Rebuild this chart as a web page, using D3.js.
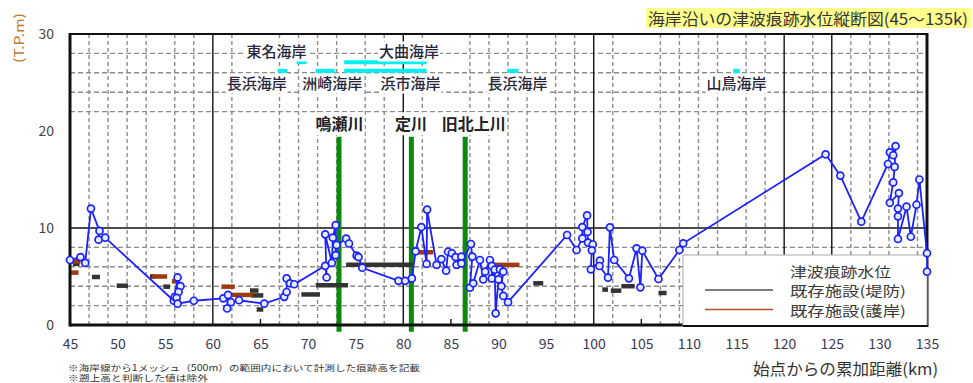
<!DOCTYPE html>
<html><head><meta charset="utf-8">
<script src="https://cdn.jsdelivr.net/npm/d3@7/dist/d3.min.js"></script>
<style>
html,body{margin:0;padding:0;background:#fff;}
svg{display:block;}
text{font-family:"Noto Sans CJK JP","Liberation Sans",sans-serif;}
</style></head>
<body>
<svg id="chart" width="973" height="383"></svg>
<script>
// ---------- data ----------
const xTicks = [45,50,55,60,65,70,75,80,85,90,95,100,105,110,115,120,125,130,135];
const yTicks = [0,10,20,30];
const gridKm = [47,49,51,53,56,58,62,67,69,71,73,76,78,82,87,89,91,93,96,98,102,107,109,111,113,116,118,123,127,129,131,134];
const solidKm = [60,80,100,120,125];
const innerTickKm = [65,85,105];
const dashedLevels = [2,4,6,8,22,24,26,28];
const solidLevels = [10];

// tsunami trace water level (km, T.P.m)
const tracePoints = [
 [45.0,6.7],[46.1,7.0],[46.6,6.4],[47.2,12.0],[48.1,9.7],[48.0,8.8],[48.7,9.0],
 [55.9,2.5],[56.0,2.9],[56.3,4.9],[56.6,4.0],[56.4,3.4],[56.2,2.8],[56.3,2.2],[58.0,2.5],
 [61.1,2.75],[61.6,3.1],[61.5,1.7],[61.9,2.35],[62.75,2.55],[65.4,2.2],
 [67.5,2.9],[67.75,3.4],[67.75,4.8],[68.1,4.3],[68.55,4.2],
 [71.8,6.1],[71.95,4.9],[71.8,9.35],[72.5,6.4],[72.6,9.0],[72.9,10.3],[72.9,7.2],[73.0,8.25],[74.0,8.9],[74.3,8.4],[75.1,7.15],[75.3,7.0],[75.7,5.9],
 [79.5,4.55],[80.2,4.55],[80.9,4.8],
 [81.3,7.6],[81.9,10.1],[82.45,6.3],[82.5,11.9],[83.5,6.2],[84.0,6.8],[84.5,5.6],[84.7,7.55],[85.1,7.4],[85.5,7.0],[85.6,6.2],[86.1,7.05],[86.1,6.35],[87.1,8.35],[87.25,7.05],
 [87.0,3.85],[87.35,4.3],[88.05,6.7],[88.4,4.7],[88.6,5.5],[89.1,6.7],[89.3,6.1],[89.3,4.8],[89.6,5.7],[89.7,1.2],[90.0,4.7],[90.15,5.74],[90.5,5.5],[90.3,4.0],[90.5,3.0],[91.0,2.35],
 [97.2,9.28],[98.2,7.73],[98.8,8.93],[98.8,10.1],[99.3,11.3],[99.35,9.6],[99.4,8.5],[99.9,8.3],[99.8,7.7],[99.7,5.74],[100.65,6.63],[100.6,6.08],[101.5,4.88],[101.7,10.07],[102.15,6.7],[103.7,4.81],[104.5,7.9],[104.9,3.88],[105.1,7.66],[106.8,4.74],[109.0,7.73],[109.4,8.42],
 [124.35,17.6],[125.9,15.4],[128.1,10.65],[130.9,16.6],[131.1,17.8],[131.45,17.5],[131.7,18.45],[131.6,16.3],[131.45,14.7],[131.1,12.6],[132.05,13.6],[131.95,12.0],[131.95,11.2],[131.95,8.87],[132.85,12.2],[133.3,9.1],[133.9,12.4],[134.2,15.0],[135.0,7.4],[135.0,5.5]
];

// existing facilities: [start km, end km, crest T.P.m]
const dikeSegments = [
 [45.3,46.0,6.3],[47.3,48.15,4.95],[49.9,51.1,4.05],[53.4,53.9,5.0],[54.8,55.5,3.95],[63.9,64.8,3.55],[64.0,65.3,3.05],[64.6,65.3,1.6],
 [69.3,71.25,3.15],[70.8,74.2,4.1],[74.0,81.0,6.2],[93.65,94.7,4.3],[100.9,101.5,3.65],[101.8,102.9,3.54],[102.9,104.3,4.0],[106.8,107.65,3.3]
];
const seawallSegments = [
 [45.0,45.9,5.4],[45.2,46.1,6.55],[53.6,55.2,5.0],[55.7,56.4,4.5],[60.9,62.3,3.95],[62.0,64.2,3.1],[81.3,83.15,7.5],[89.3,92.2,6.2]
];

// coast extents (cyan) [start km, end km, level]
const coastBars = [
 [68.8,69.85,27.1],[73.8,82.45,27.1],
 [66.8,67.8,26.2],[70.8,72.8,26.2],[73.8,82.45,26.2],[91.0,92.1,26.2],[114.65,115.35,26.2]
];
const coastNames = ["東名海岸","大曲海岸","長浜海岸","洲崎海岸","浜市海岸","長浜海岸","山鳥海岸"];
const coastKm = [66.7,80.6,64.6,72.55,80.75,92.0,115.0];
const coastLevel = [28.25,28.25,24.95,24.95,24.95,24.95,24.95];

const riverNames = ["鳴瀬川","定川","旧北上川"];
const riverKm = [73.25,80.85,86.5];
const riverLabelKm = [73.3,80.8,87.4];
const riverTop = 19.4, riverBottom = -0.7, riverLabelLevel = 20.8;

const legendLabels = ["津波痕跡水位","既存施設(堤防)","既存施設(護岸)"];
const title = "海岸沿いの津波痕跡水位縦断図(45～135k)";
const xTitle = "始点からの累加距離(km)";
const yTitle = "(T.P.m)";
const notes = ["※海岸線から1メッシュ（500m）の範囲内において計測した痕跡高を記載","※遡上高と判断した値は除外"];

// ---------- drawing ----------
const svg = d3.select("#chart");
const x = d3.scaleLinear().domain([45,135]).range([70,927]);
const y = d3.scaleLinear().domain([0,30]).range([325,34]);
const blue = "#1c22ff";

svg.append("rect").attr("width",973).attr("height",383).attr("fill","#fff");

const g = svg.append("g");
g.selectAll(".vg").data(gridKm).join("line")
 .attr("x1",d=>x(d)).attr("x2",d=>x(d)).attr("y1",y(30)).attr("y2",y(0))
 .attr("stroke","#8c8c8c").attr("stroke-width",1.4).attr("stroke-dasharray","4,3");
g.selectAll(".hg").data(dashedLevels).join("line")
 .attr("x1",x(45)).attr("x2",x(135)).attr("y1",d=>y(d)).attr("y2",d=>y(d))
 .attr("stroke","#8c8c8c").attr("stroke-width",1.4).attr("stroke-dasharray","5,3");
g.selectAll(".vs").data(solidKm).join("line")
 .attr("x1",d=>x(d)).attr("x2",d=>x(d)).attr("y1",y(30)).attr("y2",y(0))
 .attr("stroke","#111").attr("stroke-width",1.4);
g.selectAll(".hs").data(solidLevels).join("line")
 .attr("x1",x(45)).attr("x2",x(135)).attr("y1",d=>y(d)).attr("y2",d=>y(d))
 .attr("stroke","#111").attr("stroke-width",1.4);
g.selectAll(".it").data(innerTickKm).join("line")
 .attr("x1",d=>x(d)).attr("x2",d=>x(d)).attr("y1",y(0)-6).attr("y2",y(0))
 .attr("stroke","#111").attr("stroke-width",1.4);

g.selectAll(".cb").data(coastBars).join("line")
 .attr("x1",d=>x(d[0])).attr("x2",d=>x(d[1])).attr("y1",d=>y(d[2])).attr("y2",d=>y(d[2]))
 .attr("stroke","#00f0f0").attr("stroke-width",4);

function label(sel, s, cx, cy, size, weight, fill){
  const t = sel.append("text").attr("x",cx).attr("y",cy).attr("text-anchor","middle")
    .attr("dominant-baseline","central").attr("font-size",size).attr("font-weight",weight)
    .attr("fill",fill).text(s);
  const b = t.node().getBBox();
  sel.insert("rect", () => t.node()).attr("x",b.x-1).attr("y",b.y+1).attr("width",b.width+2).attr("height",b.height-1).attr("fill","#fff");
  return t;
}
coastNames.forEach((n,i)=>label(g,n,x(coastKm[i]),y(coastLevel[i]),15,"500","#26263a"));

g.selectAll(".rv").data(riverKm).join("line")
 .attr("x1",d=>x(d)).attr("x2",d=>x(d)).attr("y1",y(riverTop)).attr("y2",y(riverBottom))
 .attr("stroke","#0a8a0a").attr("stroke-width",5);
riverNames.forEach((n,i)=>label(g,n,x(riverLabelKm[i]),y(riverLabelLevel),16,"bold","#222"));

g.selectAll(".dk").data(dikeSegments).join("line")
 .attr("x1",d=>x(d[0])).attr("x2",d=>x(d[1])).attr("y1",d=>y(d[2])).attr("y2",d=>y(d[2]))
 .attr("stroke","#333").attr("stroke-width",4.5);
g.selectAll(".sw").data(seawallSegments).join("line")
 .attr("x1",d=>x(d[0])).attr("x2",d=>x(d[1])).attr("y1",d=>y(d[2])).attr("y2",d=>y(d[2]))
 .attr("stroke","#9e3a0c").attr("stroke-width",4.5);

// frame
g.append("line").attr("x1",x(45)).attr("x2",x(135)).attr("y1",y(30)).attr("y2",y(30)).attr("stroke","#111").attr("stroke-width",2);
g.append("line").attr("x1",x(45)).attr("x2",x(45)).attr("y1",y(30)-1).attr("y2",y(0)+1.5).attr("stroke","#111").attr("stroke-width",3);
g.append("line").attr("x1",x(45)).attr("x2",x(135)).attr("y1",y(0)).attr("y2",y(0)).attr("stroke","#111").attr("stroke-width",3);

// legend
const lg = svg.append("g");
lg.append("rect").attr("x",683).attr("y",255).attr("width",244).attr("height",71)
  .attr("fill","#fff").attr("stroke","#aaa").attr("stroke-width",1);
lg.append("line").attr("x1",683).attr("x2",928).attr("y1",326).attr("y2",326).attr("stroke","#111").attr("stroke-width",2);
const legY = [271,290,309.5];
const legCol = [null,"#555","#b5501e"];
legendLabels.forEach((s,i)=>{
  if(legCol[i]) lg.append("line").attr("x1",705).attr("x2",773).attr("y1",legY[i]).attr("y2",legY[i]).attr("stroke",legCol[i]).attr("stroke-width",1.6);
  lg.append("text").attr("x",790).attr("y",legY[i]).attr("dominant-baseline","central")
    .attr("font-size",13.5).attr("fill","#3a3a3a").attr("textLength",i===0?101:116).attr("lengthAdjust","spacingAndGlyphs").text(s);
});
g.append("line").attr("x1",x(135)).attr("x2",x(135)).attr("y1",y(30)-1).attr("y2",327).attr("stroke","#111").attr("stroke-width",3);

// trace series
const line = d3.line().x(d=>x(d[0])).y(d=>y(d[1]));
svg.append("path").datum(tracePoints).attr("d",line).attr("fill","none").attr("stroke",blue).attr("stroke-width",1.8);
svg.selectAll(".pt").data(tracePoints).join("circle")
 .attr("cx",d=>x(d[0])).attr("cy",d=>y(d[1])).attr("r",3.5)
 .attr("fill","#e6ecff").attr("stroke",blue).attr("stroke-width",1.7);

// axes labels
const xAxis = d3.axisBottom(x).tickValues(xTicks).tickSize(0).tickFormat(d3.format("d"));
const xa = svg.append("g").attr("transform",`translate(0,${y(0)})`).call(xAxis);
xa.select(".domain").remove();
xa.selectAll("text").attr("font-family","Liberation Sans, Arial, sans-serif").attr("font-size",14).attr("fill","#3a3a55").attr("dy",0).attr("y",24);
const yAxis = d3.axisLeft(y).tickValues(yTicks).tickSize(0).tickFormat(d3.format("d"));
const ya = svg.append("g").attr("transform",`translate(${x(45)},0)`).call(yAxis);
ya.select(".domain").remove();
ya.selectAll("text").attr("font-family","Liberation Sans, Arial, sans-serif").attr("font-size",14).attr("fill","#4a4040").attr("x",-16).attr("dy","0.35em");

// title
svg.append("rect").attr("x",646).attr("y",8).attr("width",325).attr("height",20).attr("fill","#ffff8c");
svg.append("text").attr("x",648).attr("y",18).attr("dominant-baseline","central").attr("font-size",16).attr("fill","#333")
 .attr("textLength",320).attr("lengthAdjust","spacingAndGlyphs").text(title);
svg.append("text").attr("x",753).attr("y",368).attr("dominant-baseline","central").attr("font-size",16).attr("fill","#333")
 .attr("textLength",185).attr("lengthAdjust","spacingAndGlyphs").text(xTitle);
svg.append("text").attr("transform","translate(18,38) rotate(-90)").attr("text-anchor","middle").attr("dominant-baseline","central")
 .attr("font-size",13).attr("fill","#c0782e").attr("font-family","Liberation Sans, Arial, sans-serif")
 .attr("textLength",50).attr("lengthAdjust","spacingAndGlyphs").text(yTitle);
// notes
svg.append("text").attr("x",68).attr("y",366.5).attr("dominant-baseline","central").attr("font-size",8.5).attr("fill","#333")
 .attr("textLength",352).attr("lengthAdjust","spacingAndGlyphs").text(notes[0]);
svg.append("text").attr("x",68).attr("y",377).attr("dominant-baseline","central").attr("font-size",8.5).attr("fill","#333")
 .attr("textLength",140).attr("lengthAdjust","spacingAndGlyphs").text(notes[1]);
</script>
</body></html>
